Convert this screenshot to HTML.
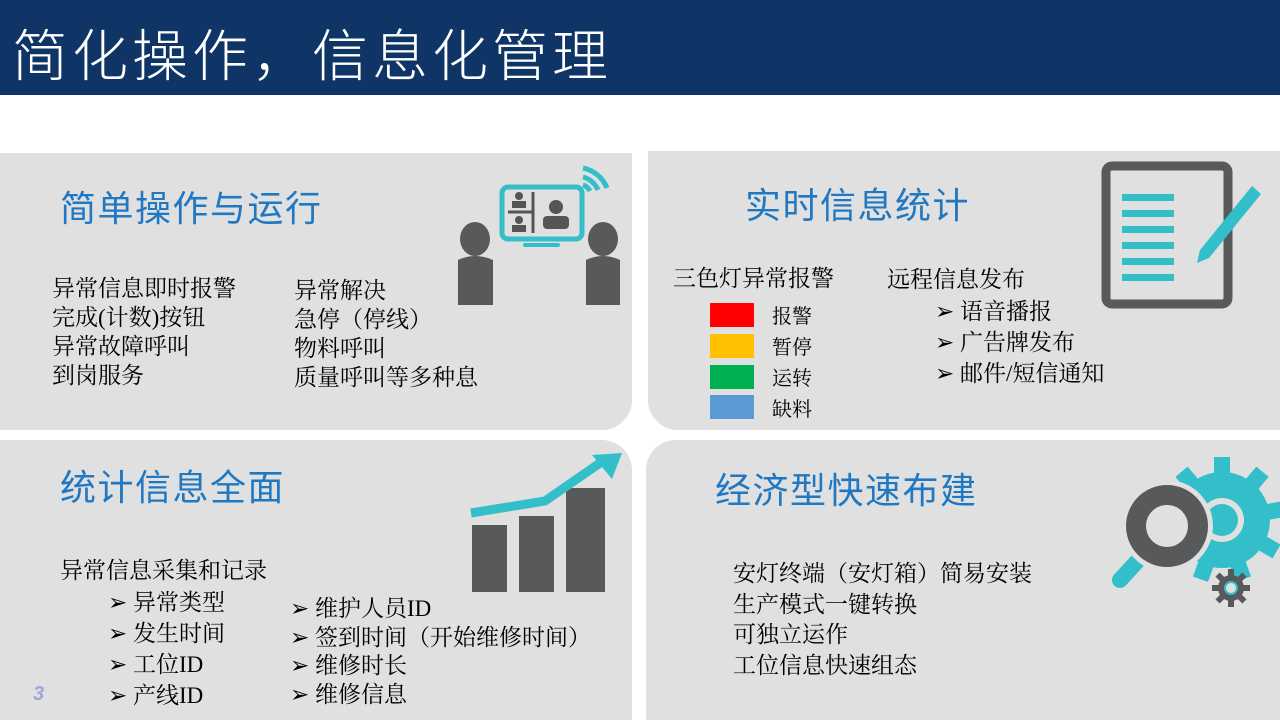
<!DOCTYPE html>
<html><head><meta charset="utf-8"><style>
*{margin:0;padding:0}
body{width:1280px;height:720px;position:relative;background:#fff;overflow:hidden;font-family:"Liberation Serif","Noto Serif CJK SC",serif}
.h{position:absolute;left:0;top:0;width:1280px;height:95px;background:#0f3567}
.h div{position:absolute;left:12px;top:12px;color:#fff;font-size:56px;font-family:"Liberation Sans","Noto Sans CJK SC",sans-serif;font-weight:300;letter-spacing:4px}
.p{position:absolute;background:#e0e0e0}
.t{position:absolute;color:#1f78c1;font-size:36px;letter-spacing:1.5px;font-family:"Liberation Sans","Noto Sans CJK SC",sans-serif}
.x{position:absolute;font-size:23px;line-height:29px;color:#000;white-space:nowrap}
.sw{position:absolute;left:710px;width:44px;height:24px}
</style></head><body>
<div class="h"><div>简化操作，信息化管理</div></div>

<div class="p" style="left:0;top:153px;width:632px;height:277px;border-bottom-right-radius:30px"></div>
<div class="p" style="left:648px;top:151px;width:632px;height:279px;border-bottom-left-radius:30px"></div>
<div class="p" style="left:0;top:440px;width:632px;height:280px;border-top-right-radius:30px"></div>
<div class="p" style="left:646px;top:440px;width:634px;height:280px;border-top-left-radius:30px"></div>

<div class="t" style="left:60px;top:180px">简单操作与运行</div>
<div class="x" style="left:52px;top:274px">异常信息即时报警<br>完成(计数)按钮<br>异常故障呼叫<br>到岗服务</div>
<div class="x" style="left:294px;top:276px">异常解决<br>急停（停线）<br>物料呼叫<br>质量呼叫等多种息</div>
<svg style="position:absolute;left:440px;top:150px" width="200" height="170">
<rect x="62" y="37" width="80" height="52" rx="6" fill="none" stroke="#33bfc9" stroke-width="5"/>
<rect x="83" y="93" width="37" height="4" rx="2" fill="#33bfc9"/>
<path d="M143 18a33 33 0 0 1 24 20M143 27a22 22 0 0 1 15 13M143 35a12 12 0 0 1 7 6" stroke="#33bfc9" stroke-width="5" fill="none"/>
<line x1="93" y1="42" x2="93" y2="83" stroke="#555" stroke-width="3"/><line x1="68" y1="62" x2="92" y2="62" stroke="#555" stroke-width="3"/>
<circle cx="79" cy="46" r="4" fill="#555"/><rect x="72" y="51" width="14" height="7" fill="#555"/>
<circle cx="79" cy="70" r="4" fill="#555"/><rect x="72" y="75" width="14" height="7" fill="#555"/>
<circle cx="116" cy="57" r="7" fill="#555"/><rect x="103" y="66" width="26" height="13" rx="4" fill="#555"/>
<ellipse cx="35" cy="89" rx="15" ry="17" fill="#58595b"/><path d="M18 110q17-8 35 0v45H18z" fill="#58595b"/>
<ellipse cx="163" cy="89" rx="15" ry="17" fill="#58595b"/><path d="M146 110q17-8 34 0v45h-34z" fill="#58595b"/>
</svg>

<div class="t" style="left:745px;top:177px">实时信息统计</div>
<div class="x" style="left:673px;top:264px">三色灯异常报警</div>
<div class="x" style="left:887px;top:265px">远程信息发布</div>
<div class="sw" style="top:303px;background:#ff0000"></div>
<div class="sw" style="top:334px;background:#ffc000"></div>
<div class="sw" style="top:365px;background:#00b050"></div>
<div class="sw" style="top:395px;background:#5b9bd5"></div>
<div class="x" style="left:772px;top:302px;font-size:20px;line-height:31px">报警<br>暂停<br>运转<br>缺料</div>
<div class="x" style="left:935px;top:296px;line-height:31px">➢ 语音播报<br>➢ 广告牌发布<br>➢ 邮件/短信通知</div>
<svg style="position:absolute;left:1100px;top:160px" width="170" height="150">
<rect x="6" y="6" width="122" height="138" rx="6" fill="none" stroke="#58595b" stroke-width="9"/>
<g fill="#33bfc9"><rect x="22" y="34" width="52" height="7"/><rect x="22" y="50" width="52" height="7"/><rect x="22" y="66" width="52" height="7"/><rect x="22" y="82" width="52" height="7"/><rect x="22" y="98" width="52" height="7"/><rect x="22" y="114" width="52" height="7"/></g>
<path d="M152 26l9 8-52 64-12 5 3-13z" fill="#33bfc9"/>
</svg>

<div class="t" style="left:60px;top:459px">统计信息全面</div>
<div class="x" style="left:60px;top:556px">异常信息采集和记录</div>
<div class="x" style="left:108px;top:587px;line-height:31px">➢ 异常类型<br>➢ 发生时间<br>➢ 工位ID<br>➢ 产线ID</div>
<div class="x" style="left:290px;top:595px;line-height:28.5px">➢ 维护人员ID<br>➢ 签到时间（开始维修时间）<br>➢ 维修时长<br>➢ 维修信息</div>
<div style="position:absolute;left:33px;top:683px;color:#9fa8d8;font-size:20px;font-weight:bold;font-style:italic;font-family:'Liberation Sans',sans-serif">3</div>
<svg style="position:absolute;left:465px;top:450px" width="160" height="145">
<g fill="#58595b"><rect x="7" y="75" width="35" height="67"/><rect x="54" y="66" width="35" height="76"/><rect x="101" y="38" width="39" height="104"/></g>
<path d="M6 63l74-12 55-38" stroke="#33bfc9" stroke-width="9" fill="none"/>
<path d="M127 5l30-2-10 26z" fill="#33bfc9"/>
</svg>

<div class="t" style="left:715px;top:462px">经济型快速布建</div>
<div class="x" style="left:733px;top:559px;line-height:30.5px">安灯终端（安灯箱）简易安装<br>生产模式一键转换<br>可独立运作<br>工位信息快速组态</div>
<svg style="position:absolute;left:1090px;top:440px" width="190" height="180">
<g transform="translate(132,80)" fill="#33bfc9"><circle r="48"/>
<g><rect x="-8" y="-63" width="16" height="20"/><rect x="-8" y="-63" width="16" height="20" transform="rotate(40)"/><rect x="-8" y="-63" width="16" height="20" transform="rotate(80)"/><rect x="-8" y="-63" width="16" height="20" transform="rotate(120)"/><rect x="-8" y="-63" width="16" height="20" transform="rotate(160)"/><rect x="-8" y="-63" width="16" height="20" transform="rotate(200)"/><rect x="-8" y="-63" width="16" height="20" transform="rotate(240)"/><rect x="-8" y="-63" width="16" height="20" transform="rotate(280)"/><rect x="-8" y="-63" width="16" height="20" transform="rotate(320)"/></g>
<circle r="22" fill="#e0e0e0"/><circle r="16" fill="#33bfc9"/></g>
<line x1="30" y1="140" x2="52" y2="116" stroke="#33bfc9" stroke-width="16" stroke-linecap="round"/>
<circle cx="77" cy="86" r="46" fill="#e0e0e0"/>
<circle cx="77" cy="86" r="31" fill="#e0e0e0" stroke="#58595b" stroke-width="20"/>
<g transform="translate(141,148)" fill="#58595b"><circle r="13"/><rect x="-3" y="-19" width="6" height="38"/><rect x="-3" y="-19" width="6" height="38" transform="rotate(45)"/><rect x="-3" y="-19" width="6" height="38" transform="rotate(90)"/><rect x="-3" y="-19" width="6" height="38" transform="rotate(135)"/><circle r="6" fill="#e0e0e0" stroke="#33bfc9" stroke-width="2"/></g>
</svg>
</body></html>
